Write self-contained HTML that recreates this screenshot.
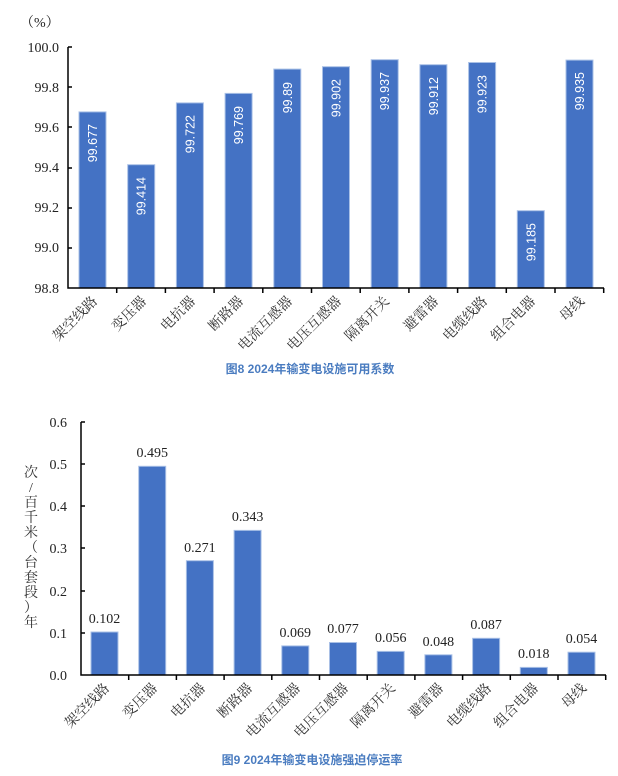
<!DOCTYPE html>
<html><head><meta charset="utf-8"><style>
body{margin:0;background:#fff;}
svg{display:block;}
.t{font-family:"Liberation Serif","Noto Serif CJK SC",serif;font-size:14px;fill:#222;}
.c{font-family:"Liberation Serif","Noto Serif CJK SC",serif;font-size:14px;fill:#333;}
.w{font-family:"Liberation Sans",sans-serif;font-size:12.5px;fill:#fff;}
.ti{font-family:"Liberation Sans","Noto Sans CJK SC",sans-serif;font-size:12px;font-weight:bold;fill:#4a7cc0;}
</style></head><body>
<svg width="618" height="776" xmlns="http://www.w3.org/2000/svg">
<text x="20" y="27" class="t">（%）</text>
<g class="t" text-anchor="end">
<text x="59" y="52">100.0</text><text x="59" y="92">99.8</text><text x="59" y="132">99.6</text>
<text x="59" y="172">99.4</text><text x="59" y="212">99.2</text><text x="59" y="252">99.0</text><text x="59" y="293">98.8</text>
</g>
<g fill="#4472c4" stroke="#a9c0e6" stroke-width="1">
<rect x="79" y="111.9" width="27" height="176.1"/>
<rect x="127.7" y="164.7" width="27" height="123.3"/>
<rect x="176.4" y="102.9" width="27" height="185.1"/>
<rect x="225.1" y="93.4" width="27" height="194.6"/>
<rect x="273.8" y="69.1" width="27" height="218.9"/>
<rect x="322.5" y="66.7" width="27" height="221.3"/>
<rect x="371.2" y="59.7" width="27" height="228.3"/>
<rect x="419.9" y="64.7" width="27" height="223.3"/>
<rect x="468.6" y="62.5" width="27" height="225.5"/>
<rect x="517.3" y="210.7" width="27" height="77.3"/>
<rect x="566" y="60.1" width="27" height="227.9"/>
</g>
<g class="w" text-anchor="end">
<text transform="translate(97,124) rotate(-90)">99.677</text>
<text transform="translate(145.7,177) rotate(-90)">99.414</text>
<text transform="translate(194.4,115) rotate(-90)">99.722</text>
<text transform="translate(243.1,106) rotate(-90)">99.769</text>
<text transform="translate(291.8,82) rotate(-90)">99.89</text>
<text transform="translate(340.5,79) rotate(-90)">99.902</text>
<text transform="translate(389.2,72) rotate(-90)">99.937</text>
<text transform="translate(437.9,77) rotate(-90)">99.912</text>
<text transform="translate(486.6,75) rotate(-90)">99.923</text>
<text transform="translate(535.3,223) rotate(-90)">99.185</text>
<text transform="translate(584,72) rotate(-90)">99.935</text>
</g>
<g stroke="#000" stroke-width="1.5" fill="none">
<path d="M68,47V288H604"/>
<path d="M68,47h4M68,87h4M68,127h4M68,168h4M68,208h4M68,248h4"/>
<path d="M116.7,288v5M165.4,288v5M214.1,288v5M262.8,288v5M311.5,288v5M360.2,288v5M408.9,288v5M457.6,288v5M506.3,288v5M555,288v5M603.7,288v5"/>
</g>
<g class="c" text-anchor="end">
<text transform="translate(98,302) rotate(-45)">架空线路</text>
<text transform="translate(147,302) rotate(-45)">变压器</text>
<text transform="translate(196,302) rotate(-45)">电抗器</text>
<text transform="translate(244,302) rotate(-45)">断路器</text>
<text transform="translate(293,302) rotate(-45)">电流互感器</text>
<text transform="translate(342,302) rotate(-45)">电压互感器</text>
<text transform="translate(390,302) rotate(-45)">隔离开关</text>
<text transform="translate(439,302) rotate(-45)">避雷器</text>
<text transform="translate(488,302) rotate(-45)">电缆线路</text>
<text transform="translate(536,302) rotate(-45)">组合电器</text>
<text transform="translate(585,302) rotate(-45)">母线</text>
</g>
<text x="310" y="373" class="ti" text-anchor="middle">图8  2024年输变电设施可用系数</text>

<g class="t" text-anchor="end">
<text x="67" y="427">0.6</text><text x="67" y="469">0.5</text><text x="67" y="511">0.4</text>
<text x="67" y="553">0.3</text><text x="67" y="596">0.2</text><text x="67" y="638">0.1</text><text x="67" y="680">0.0</text>
</g>
<g class="c" text-anchor="middle" font-size="15">
<text x="31" y="477">次</text><text x="31" y="492">/</text><text x="31" y="507">百</text><text x="31" y="522">千</text>
<text x="31" y="537">米</text><text x="31" y="552">（</text><text x="31" y="567">台</text><text x="31" y="582">套</text>
<text x="31" y="597">段</text><text x="31" y="612">）</text><text x="31" y="627">年</text>
</g>
<g fill="#4472c4" stroke="#a9c0e6" stroke-width="1">
<rect x="91" y="632" width="27" height="43"/>
<rect x="138.7" y="466.3" width="27" height="208.7"/>
<rect x="186.4" y="560.7" width="27" height="114.3"/>
<rect x="234.1" y="530.4" width="27" height="144.6"/>
<rect x="281.8" y="645.9" width="27" height="29.1"/>
<rect x="329.5" y="642.5" width="27" height="32.5"/>
<rect x="377.2" y="651.4" width="27" height="23.6"/>
<rect x="424.9" y="654.8" width="27" height="20.2"/>
<rect x="472.6" y="638.3" width="27" height="36.7"/>
<rect x="520.3" y="667.4" width="27" height="7.6"/>
<rect x="568" y="652.2" width="27" height="22.8"/>
</g>
<g class="t" text-anchor="middle">
<text x="104.5" y="623">0.102</text>
<text x="152.2" y="457">0.495</text>
<text x="199.9" y="552">0.271</text>
<text x="247.6" y="521">0.343</text>
<text x="295.3" y="637">0.069</text>
<text x="343" y="633">0.077</text>
<text x="390.7" y="642">0.056</text>
<text x="438.4" y="646">0.048</text>
<text x="486.1" y="629">0.087</text>
<text x="533.8" y="658">0.018</text>
<text x="581.5" y="643">0.054</text>
</g>
<g stroke="#000" stroke-width="1.5" fill="none">
<path d="M81,422V675H606"/>
<path d="M81,422h4M81,464h4M81,506h4M81,548h4M81,591h4M81,633h4"/>
<path d="M128.7,675v5M176.4,675v5M224.1,675v5M271.8,675v5M319.5,675v5M367.2,675v5M414.9,675v5M462.6,675v5M510.3,675v5M558,675v5M605.7,675v5"/>
</g>
<g class="c" text-anchor="end">
<text transform="translate(110,689) rotate(-45)">架空线路</text>
<text transform="translate(158,689) rotate(-45)">变压器</text>
<text transform="translate(206,689) rotate(-45)">电抗器</text>
<text transform="translate(253,689) rotate(-45)">断路器</text>
<text transform="translate(301,689) rotate(-45)">电流互感器</text>
<text transform="translate(349,689) rotate(-45)">电压互感器</text>
<text transform="translate(396,689) rotate(-45)">隔离开关</text>
<text transform="translate(444,689) rotate(-45)">避雷器</text>
<text transform="translate(492,689) rotate(-45)">电缆线路</text>
<text transform="translate(539,689) rotate(-45)">组合电器</text>
<text transform="translate(587,689) rotate(-45)">母线</text>
</g>
<text x="312" y="764" class="ti" text-anchor="middle">图9  2024年输变电设施强迫停运率</text>
</svg>
</body></html>
